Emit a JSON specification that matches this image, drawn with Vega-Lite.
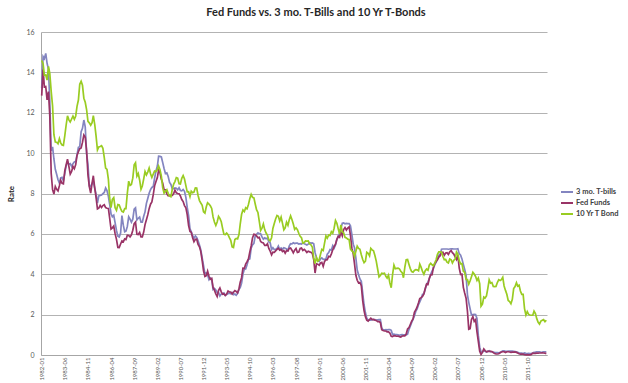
{
"$schema":"https://vega.github.io/schema/vega-lite/v6.json",
"width":506,"height":323,
"autosize":{"type":"none"},
"padding":{"left":41,"top":32,"right":81,"bottom":28},
"background":"white",
"config":{"font":"Lato","view":{"stroke":null}},
"title":{"text":"Fed Funds vs. 3 mo. T-Bills and 10 Yr T-Bonds","font":"Lato","fontSize":11,"fontWeight":"bold","color":"#262626","anchor":"middle","dx":22,"offset":10},
"data":{"values":[
{"d":"1982-01","T":13.22,"F":12.85,"B":14.59},{"d":"1982-02","T":14.78,"F":14.14,"B":14.43},{"d":"1982-03","T":14.68,"F":13.28,"B":13.86},{"d":"1982-04","T":14.94,"F":13.30,"B":13.87},{"d":"1982-05","T":14.45,"F":12.64,"B":13.62},{"d":"1982-06","T":14.15,"F":13.05,"B":14.30},{"d":"1982-07","T":12.59,"F":11.84,"B":13.95},{"d":"1982-08","T":10.12,"F":9.00,"B":13.06},{"d":"1982-09","T":10.31,"F":8.19,"B":12.34},{"d":"1982-10","T":9.71,"F":7.97,"B":10.91},{"d":"1982-11","T":9.20,"F":8.35,"B":10.55},{"d":"1982-12","T":8.95,"F":8.21,"B":10.54},
{"d":"1983-01","T":8.68,"F":8.13,"B":10.46},{"d":"1983-02","T":8.51,"F":8.39,"B":10.72},{"d":"1983-03","T":8.77,"F":8.65,"B":10.51},{"d":"1983-04","T":8.80,"F":8.50,"B":10.40},{"d":"1983-05","T":8.63,"F":8.48,"B":10.38},{"d":"1983-06","T":8.98,"F":9.12,"B":10.85},{"d":"1983-07","T":9.37,"F":9.42,"B":11.38},{"d":"1983-08","T":9.56,"F":9.70,"B":11.85},{"d":"1983-09","T":9.45,"F":9.34,"B":11.65},{"d":"1983-10","T":9.48,"F":8.96,"B":11.54},{"d":"1983-11","T":9.34,"F":9.09,"B":11.69},{"d":"1983-12","T":9.47,"F":9.34,"B":11.83},
{"d":"1984-01","T":9.56,"F":9.23,"B":11.67},{"d":"1984-02","T":9.59,"F":9.43,"B":11.84},{"d":"1984-03","T":9.91,"F":9.89,"B":12.32},{"d":"1984-04","T":10.29,"F":10.07,"B":12.63},{"d":"1984-05","T":10.32,"F":10.22,"B":13.41},{"d":"1984-06","T":11.06,"F":10.26,"B":13.56},{"d":"1984-07","T":11.23,"F":10.53,"B":13.36},{"d":"1984-08","T":11.64,"F":10.90,"B":12.72},{"d":"1984-09","T":11.30,"F":10.79,"B":12.52},{"d":"1984-10","T":9.99,"F":10.12,"B":12.16},{"d":"1984-11","T":9.43,"F":8.92,"B":11.57},{"d":"1984-12","T":8.38,"F":8.34,"B":11.50},
{"d":"1985-01","T":8.35,"F":8.02,"B":11.38},{"d":"1985-02","T":8.50,"F":8.51,"B":11.51},{"d":"1985-03","T":8.58,"F":8.88,"B":11.86},{"d":"1985-04","T":8.27,"F":8.28,"B":11.43},{"d":"1985-05","T":7.97,"F":7.81,"B":10.85},{"d":"1985-06","T":7.53,"F":7.24,"B":10.16},{"d":"1985-07","T":7.88,"F":7.28,"B":10.31},{"d":"1985-08","T":7.90,"F":7.41,"B":10.33},{"d":"1985-09","T":7.92,"F":7.31,"B":10.37},{"d":"1985-10","T":7.99,"F":7.40,"B":10.24},{"d":"1985-11","T":8.05,"F":7.44,"B":9.78},{"d":"1985-12","T":8.27,"F":7.30,"B":9.26},
{"d":"1986-01","T":8.14,"F":7.27,"B":9.19},{"d":"1986-02","T":7.86,"F":7.26,"B":8.70},{"d":"1986-03","T":7.48,"F":6.79,"B":7.78},{"d":"1986-04","T":6.99,"F":6.24,"B":7.30},{"d":"1986-05","T":6.85,"F":6.30,"B":7.71},{"d":"1986-06","T":6.92,"F":6.39,"B":7.80},{"d":"1986-07","T":6.56,"F":6.01,"B":7.30},{"d":"1986-08","T":6.17,"F":5.73,"B":7.17},{"d":"1986-09","T":5.89,"F":5.33,"B":7.45},{"d":"1986-10","T":5.85,"F":5.32,"B":7.43},{"d":"1986-11","T":6.04,"F":5.50,"B":7.25},{"d":"1986-12","T":6.91,"F":5.65,"B":7.11},
{"d":"1987-01","T":6.43,"F":5.61,"B":7.08},{"d":"1987-02","T":6.10,"F":5.75,"B":7.25},{"d":"1987-03","T":6.13,"F":5.72,"B":7.25},{"d":"1987-04","T":6.37,"F":5.93,"B":8.02},{"d":"1987-05","T":6.85,"F":5.92,"B":8.61},{"d":"1987-06","T":6.73,"F":5.85,"B":8.40},{"d":"1987-07","T":6.58,"F":5.95,"B":8.45},{"d":"1987-08","T":6.73,"F":6.18,"B":8.76},{"d":"1987-09","T":7.22,"F":6.51,"B":9.42},{"d":"1987-10","T":7.29,"F":6.59,"B":9.52},{"d":"1987-11","T":6.69,"F":5.98,"B":8.86},{"d":"1987-12","T":6.77,"F":5.97,"B":8.99},
{"d":"1988-01","T":6.83,"F":6.07,"B":8.67},{"d":"1988-02","T":6.58,"F":5.85,"B":8.21},{"d":"1988-03","T":6.58,"F":5.85,"B":8.37},{"d":"1988-04","T":6.87,"F":6.09,"B":8.72},{"d":"1988-05","T":7.09,"F":6.46,"B":9.09},{"d":"1988-06","T":7.51,"F":6.70,"B":8.92},{"d":"1988-07","T":7.75,"F":6.94,"B":9.06},{"d":"1988-08","T":8.01,"F":7.25,"B":9.26},{"d":"1988-09","T":8.19,"F":7.47,"B":8.98},{"d":"1988-10","T":8.30,"F":7.58,"B":8.80},{"d":"1988-11","T":8.35,"F":7.94,"B":8.96},{"d":"1988-12","T":8.76,"F":8.38,"B":9.11},
{"d":"1989-01","T":9.12,"F":8.59,"B":9.09},{"d":"1989-02","T":9.36,"F":8.79,"B":9.17},{"d":"1989-03","T":9.85,"F":9.16,"B":9.36},{"d":"1989-04","T":9.84,"F":9.02,"B":9.18},{"d":"1989-05","T":9.81,"F":8.70,"B":8.86},{"d":"1989-06","T":9.53,"F":8.51,"B":8.28},{"d":"1989-07","T":9.24,"F":8.19,"B":8.02},{"d":"1989-08","T":8.99,"F":8.18,"B":8.11},{"d":"1989-09","T":9.02,"F":7.98,"B":8.19},{"d":"1989-10","T":8.84,"F":7.89,"B":8.01},{"d":"1989-11","T":8.55,"F":7.91,"B":7.87},{"d":"1989-12","T":8.45,"F":7.90,"B":7.84},
{"d":"1990-01","T":8.23,"F":7.90,"B":8.21},{"d":"1990-02","T":8.24,"F":8.00,"B":8.47},{"d":"1990-03","T":8.28,"F":8.17,"B":8.59},{"d":"1990-04","T":8.26,"F":8.03,"B":8.79},{"d":"1990-05","T":8.18,"F":8.00,"B":8.76},{"d":"1990-06","T":8.29,"F":7.99,"B":8.48},{"d":"1990-07","T":8.15,"F":7.88,"B":8.47},{"d":"1990-08","T":8.13,"F":7.70,"B":8.75},{"d":"1990-09","T":8.20,"F":7.60,"B":8.89},{"d":"1990-10","T":8.11,"F":7.40,"B":8.72},{"d":"1990-11","T":7.81,"F":7.29,"B":8.39},{"d":"1990-12","T":7.31,"F":6.95,"B":8.08},
{"d":"1991-01","T":6.91,"F":6.41,"B":8.09},{"d":"1991-02","T":6.25,"F":6.12,"B":7.85},{"d":"1991-03","T":6.12,"F":6.08,"B":8.11},{"d":"1991-04","T":5.91,"F":5.81,"B":8.04},{"d":"1991-05","T":5.78,"F":5.61,"B":8.07},{"d":"1991-06","T":5.90,"F":5.73,"B":8.28},{"d":"1991-07","T":5.82,"F":5.74,"B":8.27},{"d":"1991-08","T":5.66,"F":5.48,"B":7.90},{"d":"1991-09","T":5.45,"F":5.36,"B":7.65},{"d":"1991-10","T":5.21,"F":5.12,"B":7.53},{"d":"1991-11","T":4.81,"F":4.68,"B":7.42},{"d":"1991-12","T":4.43,"F":4.17,"B":7.09},
{"d":"1992-01","T":4.03,"F":3.89,"B":7.03},{"d":"1992-02","T":4.06,"F":3.93,"B":7.34},{"d":"1992-03","T":3.98,"F":4.15,"B":7.54},{"d":"1992-04","T":3.73,"F":3.90,"B":7.48},{"d":"1992-05","T":3.82,"F":3.75,"B":7.39},{"d":"1992-06","T":3.76,"F":3.79,"B":7.26},{"d":"1992-07","T":3.25,"F":3.35,"B":6.84},{"d":"1992-08","T":3.30,"F":3.21,"B":6.59},{"d":"1992-09","T":3.22,"F":3.03,"B":6.42},{"d":"1992-10","T":3.10,"F":2.90,"B":6.59},{"d":"1992-11","T":3.09,"F":3.21,"B":6.87},{"d":"1992-12","T":2.92,"F":3.32,"B":6.77},
{"d":"1993-01","T":3.02,"F":3.13,"B":6.60},{"d":"1993-02","T":3.03,"F":3.01,"B":6.26},{"d":"1993-03","T":3.07,"F":3.03,"B":5.98},{"d":"1993-04","T":2.96,"F":2.95,"B":5.97},{"d":"1993-05","T":3.00,"F":3.02,"B":6.04},{"d":"1993-06","T":3.04,"F":3.17,"B":5.96},{"d":"1993-07","T":3.06,"F":3.12,"B":5.81},{"d":"1993-08","T":3.03,"F":3.12,"B":5.68},{"d":"1993-09","T":3.09,"F":3.02,"B":5.36},{"d":"1993-10","T":2.99,"F":3.11,"B":5.33},{"d":"1993-11","T":3.02,"F":3.19,"B":5.72},{"d":"1993-12","T":2.96,"F":3.15,"B":5.77},
{"d":"1994-01","T":3.05,"F":3.08,"B":5.75},{"d":"1994-02","T":3.25,"F":3.28,"B":5.97},{"d":"1994-03","T":3.34,"F":3.60,"B":6.48},{"d":"1994-04","T":3.56,"F":3.83,"B":6.97},{"d":"1994-05","T":4.01,"F":4.30,"B":7.18},{"d":"1994-06","T":4.25,"F":4.29,"B":7.10},{"d":"1994-07","T":4.26,"F":4.50,"B":7.30},{"d":"1994-08","T":4.47,"F":4.62,"B":7.24},{"d":"1994-09","T":4.73,"F":4.76,"B":7.46},{"d":"1994-10","T":4.76,"F":5.09,"B":7.74},{"d":"1994-11","T":5.29,"F":5.40,"B":7.96},{"d":"1994-12","T":5.45,"F":5.80,"B":7.81},
{"d":"1995-01","T":5.53,"F":5.98,"B":7.78},{"d":"1995-02","T":5.92,"F":5.97,"B":7.47},{"d":"1995-03","T":5.98,"F":5.90,"B":7.20},{"d":"1995-04","T":6.05,"F":5.81,"B":7.06},{"d":"1995-05","T":6.01,"F":5.83,"B":6.63},{"d":"1995-06","T":6.00,"F":5.62,"B":6.17},{"d":"1995-07","T":5.85,"F":5.57,"B":6.28},{"d":"1995-08","T":5.74,"F":5.55,"B":6.49},{"d":"1995-09","T":5.80,"F":5.43,"B":6.20},{"d":"1995-10","T":5.76,"F":5.43,"B":6.04},{"d":"1995-11","T":5.80,"F":5.51,"B":5.93},{"d":"1995-12","T":5.60,"F":5.28,"B":5.71},
{"d":"1996-01","T":5.56,"F":5.14,"B":5.65},{"d":"1996-02","T":5.22,"F":4.96,"B":5.81},{"d":"1996-03","T":5.31,"F":5.09,"B":6.27},{"d":"1996-04","T":5.22,"F":5.08,"B":6.51},{"d":"1996-05","T":5.24,"F":5.16,"B":6.74},{"d":"1996-06","T":5.27,"F":5.23,"B":6.91},{"d":"1996-07","T":5.40,"F":5.29,"B":6.87},{"d":"1996-08","T":5.22,"F":5.19,"B":6.64},{"d":"1996-09","T":5.30,"F":5.23,"B":6.83},{"d":"1996-10","T":5.24,"F":5.12,"B":6.53},{"d":"1996-11","T":5.31,"F":5.17,"B":6.20},{"d":"1996-12","T":5.29,"F":5.04,"B":6.30},
{"d":"1997-01","T":5.25,"F":5.17,"B":6.58},{"d":"1997-02","T":5.19,"F":5.15,"B":6.42},{"d":"1997-03","T":5.39,"F":5.28,"B":6.69},{"d":"1997-04","T":5.51,"F":5.30,"B":6.89},{"d":"1997-05","T":5.50,"F":5.19,"B":6.71},{"d":"1997-06","T":5.56,"F":5.06,"B":6.49},{"d":"1997-07","T":5.52,"F":5.19,"B":6.22},{"d":"1997-08","T":5.54,"F":5.28,"B":6.30},{"d":"1997-09","T":5.54,"F":5.08,"B":6.21},{"d":"1997-10","T":5.50,"F":5.10,"B":6.03},{"d":"1997-11","T":5.52,"F":5.28,"B":5.88},{"d":"1997-12","T":5.50,"F":5.30,"B":5.81},
{"d":"1998-01","T":5.56,"F":5.18,"B":5.54},{"d":"1998-02","T":5.51,"F":5.23,"B":5.57},{"d":"1998-03","T":5.49,"F":5.17,"B":5.65},{"d":"1998-04","T":5.45,"F":5.08,"B":5.64},{"d":"1998-05","T":5.49,"F":5.14,"B":5.65},{"d":"1998-06","T":5.56,"F":5.11,"B":5.50},{"d":"1998-07","T":5.54,"F":5.09,"B":5.46},{"d":"1998-08","T":5.55,"F":5.03,"B":5.34},{"d":"1998-09","T":5.51,"F":4.73,"B":4.81},{"d":"1998-10","T":5.07,"F":4.06,"B":4.53},{"d":"1998-11","T":4.83,"F":4.52,"B":4.83},{"d":"1998-12","T":4.68,"F":4.50,"B":4.65},
{"d":"1999-01","T":4.63,"F":4.45,"B":4.72},{"d":"1999-02","T":4.76,"F":4.56,"B":5.00},{"d":"1999-03","T":4.81,"F":4.59,"B":5.23},{"d":"1999-04","T":4.74,"F":4.39,"B":5.18},{"d":"1999-05","T":4.74,"F":4.63,"B":5.54},{"d":"1999-06","T":4.76,"F":4.71,"B":5.90},{"d":"1999-07","T":4.99,"F":4.72,"B":5.79},{"d":"1999-08","T":5.07,"F":4.89,"B":5.94},{"d":"1999-09","T":5.22,"F":4.86,"B":5.92},{"d":"1999-10","T":5.20,"F":5.01,"B":6.11},{"d":"1999-11","T":5.42,"F":5.21,"B":6.03},{"d":"1999-12","T":5.30,"F":5.37,"B":6.28},
{"d":"2000-01","T":5.45,"F":5.49,"B":6.66},{"d":"2000-02","T":5.73,"F":5.73,"B":6.52},{"d":"2000-03","T":5.85,"F":5.88,"B":6.26},{"d":"2000-04","T":6.02,"F":5.83,"B":5.99},{"d":"2000-05","T":6.27,"F":6.09,"B":6.44},{"d":"2000-06","T":6.53,"F":5.90,"B":6.10},{"d":"2000-07","T":6.54,"F":6.21,"B":6.05},{"d":"2000-08","T":6.50,"F":6.31,"B":5.83},{"d":"2000-09","T":6.52,"F":6.19,"B":5.80},{"d":"2000-10","T":6.51,"F":6.29,"B":5.74},{"d":"2000-11","T":6.51,"F":6.35,"B":5.72},{"d":"2000-12","T":6.40,"F":5.93,"B":5.24},
{"d":"2001-01","T":5.98,"F":5.29,"B":5.16},{"d":"2001-02","T":5.49,"F":5.01,"B":5.10},{"d":"2001-03","T":5.31,"F":4.53,"B":4.89},{"d":"2001-04","T":4.80,"F":3.95,"B":5.14},{"d":"2001-05","T":4.21,"F":3.70,"B":5.39},{"d":"2001-06","T":3.97,"F":3.57,"B":5.28},{"d":"2001-07","T":3.77,"F":3.59,"B":5.24},{"d":"2001-08","T":3.65,"F":3.43,"B":4.97},{"d":"2001-09","T":3.07,"F":2.69,"B":4.73},{"d":"2001-10","T":2.49,"F":2.20,"B":4.57},{"d":"2001-11","T":2.09,"F":1.90,"B":4.65},{"d":"2001-12","T":1.82,"F":1.72,"B":5.09},
{"d":"2002-01","T":1.73,"F":1.68,"B":5.04},{"d":"2002-02","T":1.74,"F":1.76,"B":4.91},{"d":"2002-03","T":1.73,"F":1.82,"B":5.28},{"d":"2002-04","T":1.75,"F":1.75,"B":5.21},{"d":"2002-05","T":1.75,"F":1.76,"B":5.16},{"d":"2002-06","T":1.75,"F":1.73,"B":4.93},{"d":"2002-07","T":1.73,"F":1.71,"B":4.65},{"d":"2002-08","T":1.74,"F":1.65,"B":4.26},{"d":"2002-09","T":1.75,"F":1.66,"B":3.87},{"d":"2002-10","T":1.75,"F":1.61,"B":3.94},{"d":"2002-11","T":1.34,"F":1.25,"B":4.05},{"d":"2002-12","T":1.24,"F":1.21,"B":4.03},
{"d":"2003-01","T":1.24,"F":1.19,"B":4.05},{"d":"2003-02","T":1.26,"F":1.19,"B":3.90},{"d":"2003-03","T":1.25,"F":1.15,"B":3.81},{"d":"2003-04","T":1.26,"F":1.15,"B":3.96},{"d":"2003-05","T":1.26,"F":1.09,"B":3.57},{"d":"2003-06","T":1.22,"F":0.93,"B":3.33},{"d":"2003-07","T":1.01,"F":0.91,"B":3.98},{"d":"2003-08","T":1.03,"F":0.96,"B":4.45},{"d":"2003-09","T":1.01,"F":0.95,"B":4.27},{"d":"2003-10","T":1.01,"F":0.93,"B":4.29},{"d":"2003-11","T":1.00,"F":0.94,"B":4.30},{"d":"2003-12","T":0.98,"F":0.91,"B":4.27},
{"d":"2004-01","T":1.00,"F":0.89,"B":4.15},{"d":"2004-02","T":1.01,"F":0.94,"B":4.08},{"d":"2004-03","T":1.00,"F":0.95,"B":3.83},{"d":"2004-04","T":1.00,"F":0.95,"B":4.35},{"d":"2004-05","T":1.00,"F":1.04,"B":4.72},{"d":"2004-06","T":1.03,"F":1.29,"B":4.73},{"d":"2004-07","T":1.26,"F":1.35,"B":4.50},{"d":"2004-08","T":1.43,"F":1.51,"B":4.28},{"d":"2004-09","T":1.61,"F":1.68,"B":4.13},{"d":"2004-10","T":1.76,"F":1.79,"B":4.10},{"d":"2004-11","T":1.93,"F":2.11,"B":4.19},{"d":"2004-12","T":2.16,"F":2.23,"B":4.23},
{"d":"2005-01","T":2.28,"F":2.38,"B":4.22},{"d":"2005-02","T":2.50,"F":2.59,"B":4.17},{"d":"2005-03","T":2.63,"F":2.80,"B":4.50},{"d":"2005-04","T":2.79,"F":2.84,"B":4.34},{"d":"2005-05","T":3.00,"F":2.90,"B":4.14},{"d":"2005-06","T":3.04,"F":3.03,"B":4.00},{"d":"2005-07","T":3.26,"F":3.29,"B":4.18},{"d":"2005-08","T":3.50,"F":3.52,"B":4.26},{"d":"2005-09","T":3.62,"F":3.50,"B":4.20},{"d":"2005-10","T":3.78,"F":3.80,"B":4.46},{"d":"2005-11","T":4.00,"F":3.97,"B":4.54},{"d":"2005-12","T":4.16,"F":3.98,"B":4.47},
{"d":"2006-01","T":4.29,"F":4.35,"B":4.42},{"d":"2006-02","T":4.49,"F":4.54,"B":4.57},{"d":"2006-03","T":4.59,"F":4.63,"B":4.72},{"d":"2006-04","T":4.79,"F":4.72,"B":4.99},{"d":"2006-05","T":4.94,"F":4.85,"B":5.11},{"d":"2006-06","T":4.99,"F":4.92,"B":5.11},{"d":"2006-07","T":5.24,"F":5.08,"B":5.09},{"d":"2006-08","T":5.25,"F":5.09,"B":4.88},{"d":"2006-09","T":5.25,"F":4.94,"B":4.72},{"d":"2006-10","T":5.25,"F":5.05,"B":4.73},{"d":"2006-11","T":5.25,"F":5.07,"B":4.60},{"d":"2006-12","T":5.24,"F":4.98,"B":4.56},
{"d":"2007-01","T":5.25,"F":5.11,"B":4.76},{"d":"2007-02","T":5.26,"F":5.17,"B":4.72},{"d":"2007-03","T":5.26,"F":5.07,"B":4.56},{"d":"2007-04","T":5.25,"F":5.00,"B":4.69},{"d":"2007-05","T":5.25,"F":4.86,"B":4.75},{"d":"2007-06","T":5.25,"F":4.73,"B":5.10},{"d":"2007-07","T":5.26,"F":4.95,"B":5.00},{"d":"2007-08","T":5.02,"F":4.31,"B":4.67},{"d":"2007-09","T":4.94,"F":3.99,"B":4.52},{"d":"2007-10","T":4.76,"F":4.00,"B":4.53},{"d":"2007-11","T":4.49,"F":3.35,"B":4.15},{"d":"2007-12","T":4.24,"F":3.07,"B":4.10},
{"d":"2008-01","T":3.94,"F":2.81,"B":3.74},{"d":"2008-02","T":2.98,"F":2.16,"B":3.74},{"d":"2008-03","T":2.61,"F":1.28,"B":3.51},{"d":"2008-04","T":2.28,"F":1.31,"B":3.68},{"d":"2008-05","T":1.98,"F":1.76,"B":3.88},{"d":"2008-06","T":2.00,"F":1.90,"B":4.10},{"d":"2008-07","T":2.01,"F":1.66,"B":4.01},{"d":"2008-08","T":2.00,"F":1.75,"B":3.89},{"d":"2008-09","T":1.81,"F":1.15,"B":3.69},{"d":"2008-10","T":0.97,"F":0.68,"B":3.81},{"d":"2008-11","T":0.39,"F":0.19,"B":3.53},{"d":"2008-12","T":0.16,"F":0.03,"B":2.42},
{"d":"2009-01","T":0.15,"F":0.13,"B":2.52},{"d":"2009-02","T":0.22,"F":0.30,"B":2.87},{"d":"2009-03","T":0.18,"F":0.22,"B":2.82},{"d":"2009-04","T":0.15,"F":0.16,"B":2.93},{"d":"2009-05","T":0.18,"F":0.18,"B":3.29},{"d":"2009-06","T":0.21,"F":0.18,"B":3.72},{"d":"2009-07","T":0.16,"F":0.18,"B":3.56},{"d":"2009-08","T":0.16,"F":0.17,"B":3.59},{"d":"2009-09","T":0.15,"F":0.12,"B":3.40},{"d":"2009-10","T":0.12,"F":0.07,"B":3.39},{"d":"2009-11","T":0.12,"F":0.05,"B":3.40},{"d":"2009-12","T":0.12,"F":0.05,"B":3.59},
{"d":"2010-01","T":0.11,"F":0.06,"B":3.73},{"d":"2010-02","T":0.13,"F":0.11,"B":3.69},{"d":"2010-03","T":0.16,"F":0.15,"B":3.73},{"d":"2010-04","T":0.20,"F":0.16,"B":3.85},{"d":"2010-05","T":0.20,"F":0.16,"B":3.42},{"d":"2010-06","T":0.18,"F":0.12,"B":3.20},{"d":"2010-07","T":0.18,"F":0.16,"B":3.01},{"d":"2010-08","T":0.19,"F":0.16,"B":2.70},{"d":"2010-09","T":0.19,"F":0.15,"B":2.65},{"d":"2010-10","T":0.19,"F":0.13,"B":2.54},{"d":"2010-11","T":0.19,"F":0.14,"B":2.76},{"d":"2010-12","T":0.18,"F":0.14,"B":3.29},
{"d":"2011-01","T":0.17,"F":0.15,"B":3.39},{"d":"2011-02","T":0.16,"F":0.13,"B":3.58},{"d":"2011-03","T":0.14,"F":0.10,"B":3.41},{"d":"2011-04","T":0.10,"F":0.06,"B":3.46},{"d":"2011-05","T":0.09,"F":0.04,"B":3.17},{"d":"2011-06","T":0.09,"F":0.04,"B":3.00},{"d":"2011-07","T":0.07,"F":0.04,"B":3.00},{"d":"2011-08","T":0.10,"F":0.02,"B":2.30},{"d":"2011-09","T":0.08,"F":0.01,"B":1.98},{"d":"2011-10","T":0.07,"F":0.02,"B":2.15},{"d":"2011-11","T":0.08,"F":0.01,"B":2.01},{"d":"2011-12","T":0.07,"F":0.01,"B":1.98},
{"d":"2012-01","T":0.08,"F":0.03,"B":1.97},{"d":"2012-02","T":0.10,"F":0.09,"B":1.97},{"d":"2012-03","T":0.13,"F":0.08,"B":2.17},{"d":"2012-04","T":0.14,"F":0.08,"B":2.05},{"d":"2012-05","T":0.16,"F":0.09,"B":1.80},{"d":"2012-06","T":0.16,"F":0.09,"B":1.62},{"d":"2012-07","T":0.16,"F":0.10,"B":1.53},{"d":"2012-08","T":0.13,"F":0.10,"B":1.68},{"d":"2012-09","T":0.14,"F":0.11,"B":1.72},{"d":"2012-10","T":0.16,"F":0.10,"B":1.75},{"d":"2012-11","T":0.16,"F":0.09,"B":1.65},{"d":"2012-12","T":0.16,"F":0.07,"B":1.72}
]},
"transform":[{"fold":["T","F","B"],"as":["s","v"]}],
"mark":{"type":"line","strokeWidth":1.7},
"encoding":{
"x":{"field":"d","type":"temporal","scale":{"type":"utc","domain":[{"year":1981,"month":12,"date":16,"utc":true},{"year":2012,"month":12,"date":16,"utc":true}]},
"axis":{"title":null,"format":"%Y-%m","labelAngle":-90,"labelFontSize":6,"labelColor":"#595959","labelPadding":2,"ticks":false,"grid":false,"domainColor":"#a6a6a6","labelOverlap":false,
"values":[{"year":1982,"month":1,"utc":true},{"year":1983,"month":6,"utc":true},{"year":1984,"month":11,"utc":true},{"year":1986,"month":4,"utc":true},{"year":1987,"month":9,"utc":true},{"year":1989,"month":2,"utc":true},{"year":1990,"month":7,"utc":true},{"year":1991,"month":12,"utc":true},{"year":1993,"month":5,"utc":true},{"year":1994,"month":10,"utc":true},{"year":1996,"month":3,"utc":true},{"year":1997,"month":8,"utc":true},{"year":1999,"month":1,"utc":true},{"year":2000,"month":6,"utc":true},{"year":2001,"month":11,"utc":true},{"year":2003,"month":4,"utc":true},{"year":2004,"month":9,"utc":true},{"year":2006,"month":2,"utc":true},{"year":2007,"month":7,"utc":true},{"year":2008,"month":12,"utc":true},{"year":2010,"month":5,"utc":true},{"year":2011,"month":10,"utc":true}]}},
"y":{"field":"v","type":"quantitative","scale":{"domain":[0,16],"nice":false},
"axis":{"title":"Rate","titleFontSize":8,"titleFontWeight":"bold","titleColor":"#262626","titlePadding":10,"values":[0,2,4,6,8,10,12,14,16],"labelFontSize":7,"labelColor":"#595959","labelPadding":7,"ticks":false,"grid":true,"gridColor":"#b3b3b3","domainColor":"#a6a6a6"}},
"color":{"field":"s","type":"nominal","scale":{"domain":["T","F","B"],"range":["#8385c0","#993366","#99cc22"]},
"legend":{"title":null,"orient":"none","legendX":519,"legendY":155,"symbolType":"stroke","symbolSize":144,"symbolStrokeWidth":2,"labelFontSize":7.5,"labelFontWeight":"bold","labelColor":"#404040","clipHeight":10,"rowPadding":1,"labelOffset":2,
"labelExpr":"datum.label == 'T' ? '3 mo. T-bills' : datum.label == 'F' ? 'Fed Funds' : '10 Yr T Bond'"}}
}
}
